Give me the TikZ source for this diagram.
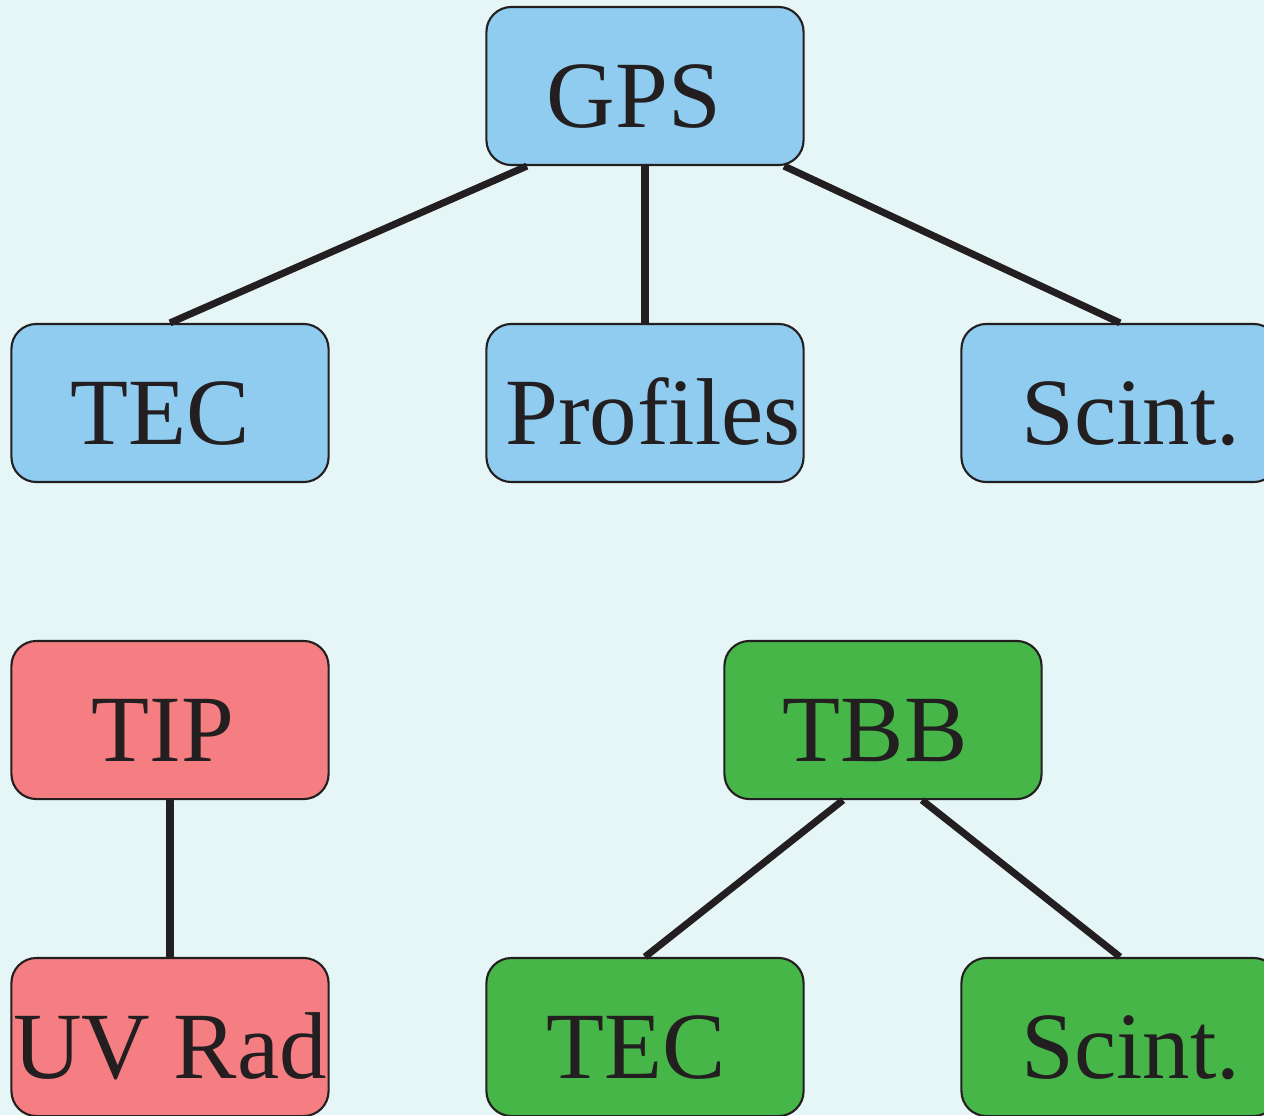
\documentclass[tikz,border=0pt]{standalone}
\usepackage{fontspec}
\setmainfont{Liberation Serif}
\definecolor{bgcol}{HTML}{E6F5F5}
\definecolor{gpsblue}{HTML}{8FCCEF}
\definecolor{tipred}{HTML}{F47E82}
\definecolor{tbbgreen}{HTML}{46B649}
\definecolor{inkcol}{HTML}{231F20}
% move a label sideways inside its box
\newcommand{\nudgeleft}[2]{#2\hspace*{#1}}
\newcommand{\nudgeright}[2]{\hspace*{#1}#2}
\begin{document}
\begin{tikzpicture}[x=0.01cm, y=-0.01cm,
    box/.style={draw=inkcol, line width=0.6pt, rounded corners=0.25cm, inner sep=0pt,
        minimum width=3.17cm, text height=1.2cm, text depth=0.38cm, align=center,
        text=inkcol, font=\fontsize{27}{30}\selectfont},
    gpsbox/.style={box, fill=gpsblue},
    tipbox/.style={box, fill=tipred},
    tbbbox/.style={box, fill=tbbgreen},
    link/.style={draw=inkcol, line width=2pt}]
    \clip (0,0) rectangle (1264,1115);
    \fill[bgcol] (0,0) rectangle (1264,1115);

    \node[gpsbox] at (645, 86) (gps) {\nudgeleft{0.22cm}{GPS}};
    \node[gpsbox] at (170, 403) (tec1) {\nudgeleft{0.2cm}{TEC}};
    \node[gpsbox] at (645, 403) (prof) {\nudgeright{0.16cm}{Profiles}};
    \node[gpsbox] at (1120, 403) (scint1) {\nudgeright{0.22cm}{Scint.}};

    \node[tipbox] at (170, 720) (tip) {\nudgeleft{0.14cm}{TIP}};
    \node[tipbox] at (170, 1037) (uvrad) {UV Rad};

    \node[tbbbox] at (883, 720) (tbb) {\nudgeleft{0.16cm}{TBB}};
    \node[tbbbox] at (645, 1037) (tec2) {\nudgeleft{0.18cm}{TEC}};
    \node[tbbbox] at (1120, 1037) (scint2) {\nudgeright{0.22cm}{Scint.}};

    \path[link] ([xshift=-1.18cm]gps.south) -- (tec1.north);
    \path[link] (gps.south) -- (prof.north);
    \path[link] ([xshift=1.39cm]gps.south) -- (scint1.north);

    \path[link] (tip.south) -- (uvrad.north);

    \path[link] ([xshift=-0.4cm]tbb.south) -- (tec2.north);
    \path[link] ([xshift=0.39cm]tbb.south) -- (scint2.north);

\end{tikzpicture}
\end{document}
